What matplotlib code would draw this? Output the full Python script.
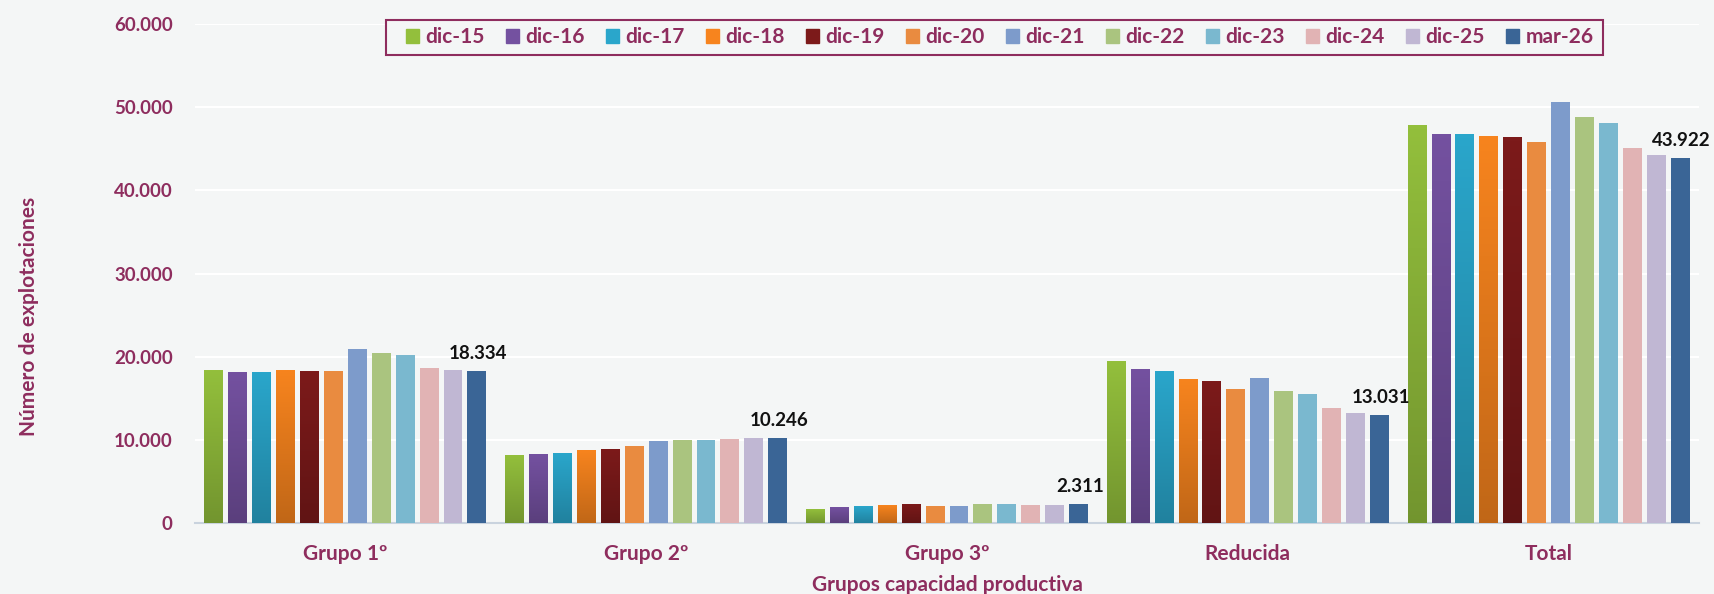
import numpy as np
import matplotlib
matplotlib.use("Agg")
from matplotlib import pyplot as plt
from matplotlib.colors import to_rgb

categories = ["Grupo 1º", "Grupo 2º", "Grupo 3º", "Reducida", "Total"]
periods = ["dic-15", "dic-16", "dic-17", "dic-18", "dic-19", "dic-20",
           "dic-21", "dic-22", "dic-23", "dic-24", "dic-25", "mar-26"]

grupo1 = [18334, 18130, 18130, 18334, 18210, 18334, 20930, 20480, 20160, 18660, 18450, 18334]
grupo2 = [8130, 8250, 8370, 8690, 8810, 9250, 9890, 10010, 10010, 10130, 10200, 10246]
grupo3 = [1680, 1850, 1975, 2060, 2185, 2060, 2060, 2270, 2270, 2185, 2185, 2311]
reducida = [19385, 18490, 18170, 17280, 17040, 16070, 17480, 15900, 15500, 13880, 13270, 13031]
total = [47750, 46750, 46750, 46500, 46300, 45860, 50580, 48760, 48120, 45050, 44250, 43922]

colors = ["#93BF3C", "#7451A0", "#2AA6CB", "#F7841E", "#7C1A1A", "#E98B40",
          "#7D9BCB", "#AAC47F", "#7AB8CF", "#E1B3B4", "#C0B7D3", "#3A6596"]
gradient_bars = 5  # the first series are shaded darker towards the base

maroon = "#8E2D5E"
bg = "#F4F6F6"

plt.rcParams["font.family"] = ["Lato", "DejaVu Sans"]
plt.rcParams["font.weight"] = "bold"


def fmt(v):
    return f"{int(v):,}".replace(",", ".")


values = np.array([grupo1, grupo2, grupo3, reducida, total])

fig = plt.figure(figsize=(17.15, 5.94), dpi=100, facecolor=bg)
ax = fig.add_axes([0.1137, 0.1195, 0.877, 0.8401], facecolor=bg)

x = np.arange(len(categories))
pitch = 0.0795
width = 0.063

for i, period in enumerate(periods):
    pos = x + (i - (len(periods) - 1) / 2) * pitch
    if i < gradient_bars:
        bars = ax.bar(pos, values[:, i], width, color="none", zorder=3)
        top = np.array(to_rgb(colors[i]))
        img = top * 0.78 + (top - top * 0.78) * np.linspace(0, 1, 100)[:, None, None]
        for b in bars:
            ax.imshow(img, extent=(b.get_x(), b.get_x() + b.get_width(), 0, b.get_height()),
                      origin="lower", aspect="auto", zorder=3)
    else:
        ax.bar(pos, values[:, i], width, color=colors[i], zorder=3)
    if period == "mar-26":
        for xp, v in zip(pos, values[:, i]):
            ax.annotate(fmt(v), (xp, v), xytext=(1, 6), textcoords="offset points",
                        ha="center", va="bottom", fontsize=13.5, fontweight="bold",
                        color="#111111", zorder=4, annotation_clip=False)

ax.set_xlim(-0.5, len(categories) - 0.5)
ax.set_ylim(0, 60000)
ax.set_yticks(np.arange(0, 60001, 10000))
ax.set_yticklabels([fmt(t) for t in np.arange(0, 60001, 10000)])
ax.set_xticks(x)
ax.set_xticklabels(categories)
ax.tick_params(axis="y", length=0, labelsize=13.5, labelcolor=maroon, pad=16)
ax.tick_params(axis="x", length=0, labelsize=15, labelcolor=maroon, pad=15)
ax.grid(axis="y", color="white", linewidth=1.5, zorder=0)

for side in ["top", "right", "left"]:
    ax.spines[side].set_visible(False)
ax.spines["bottom"].set_color("#C9D3DE")
ax.spines["bottom"].set_linewidth(1.5)

ax.set_ylabel("Número de explotaciones", fontsize=15, fontweight="bold", color=maroon)
ax.yaxis.set_label_coords(-0.104, 0.413)
ax.set_xlabel("Grupos capacidad productiva", fontsize=15, fontweight="bold", color=maroon,
              va="center")
ax.xaxis.set_label_coords(0.5, -0.124)

# legend box drawn by hand, entries placed inside it
fig.patches.append(plt.Rectangle((0.2251, 0.9079), 0.7096, 0.0589, transform=fig.transFigure,
                                 facecolor=bg, edgecolor=maroon, linewidth=1.5, zorder=5))
handles = [plt.Rectangle((0, 0), 1, 1, color=c) for c in colors]
leg = fig.legend(handles, periods, loc="center", bbox_to_anchor=(0.5829, 0.937), ncol=12,
                 fontsize=15, frameon=False, handlelength=0.65, handleheight=0.65,
                 handletextpad=0.3, columnspacing=1.0)
leg.set_zorder(6)
for t in leg.get_texts():
    t.set_color(maroon)
    t.set_fontweight("bold")

fig.savefig("out.png", dpi=100, facecolor=bg)
